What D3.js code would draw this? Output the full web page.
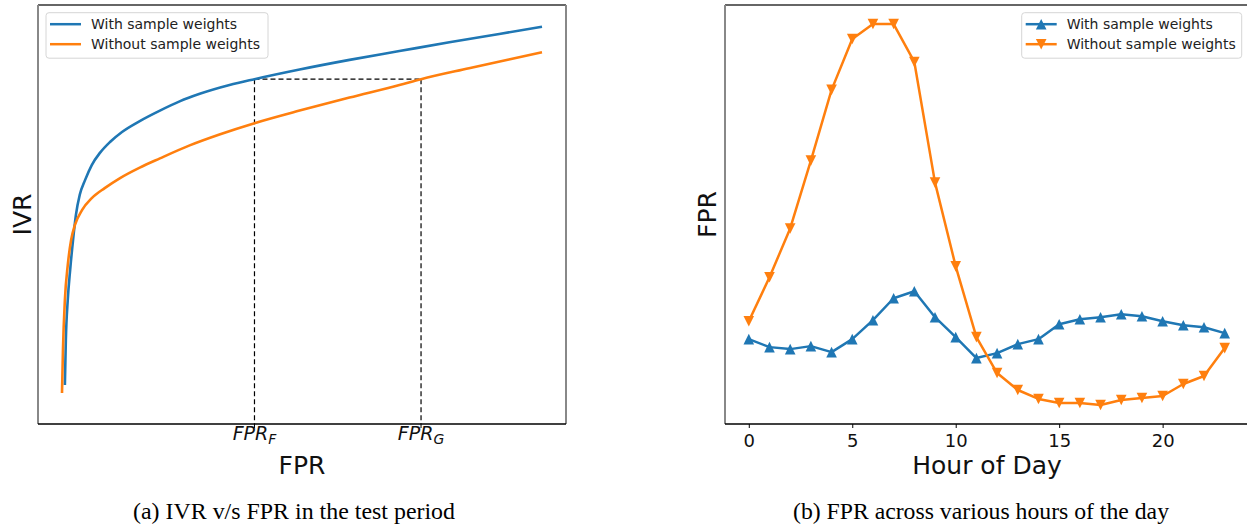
<!DOCTYPE html>
<html>
<head>
<meta charset="utf-8">
<script src="https://cdn.jsdelivr.net/npm/d3@7"></script>
<style>
  body { margin: 0; background: #fff; }
  svg { display: block; font-family: "DejaVu Sans", sans-serif; }
</style>
</head>
<body>
<div id="chart"></div>
<script>
// ---- left panel: IVR vs FPR curves (FPR, IVR pairs) ----
const withWeightsFpr = [0.006, 0.008, 0.012, 0.017, 0.023, 0.029, 0.037, 0.048, 0.062, 0.079, 0.100, 0.125, 0.162, 0.204, 0.245, 0.287, 0.349, 0.401, 0.495, 0.599, 0.703, 0.807, 0.911, 1.0];
const withWeightsIvr = [0.093, 0.200, 0.296, 0.368, 0.439, 0.499, 0.547, 0.582, 0.618, 0.647, 0.673, 0.697, 0.723, 0.748, 0.770, 0.788, 0.809, 0.823, 0.846, 0.869, 0.890, 0.911, 0.931, 0.948];
const withoutWeightsFpr = [0.0, 0.002, 0.006, 0.012, 0.019, 0.027, 0.042, 0.062, 0.089, 0.121, 0.162, 0.204, 0.266, 0.328, 0.401, 0.495, 0.599, 0.703, 0.748, 0.848, 0.931, 1.0];
const withoutWeightsIvr = [0.074, 0.177, 0.296, 0.379, 0.439, 0.475, 0.511, 0.539, 0.563, 0.587, 0.612, 0.634, 0.665, 0.691, 0.718, 0.748, 0.779, 0.809, 0.823, 0.849, 0.870, 0.887];
const fprF = 0.401, fprG = 0.748, ivrLevel = 0.823;

// ---- right panel: FPR by hour of day ----
const hours = d3.range(0, 24);
const fprWith = [0.085, 0.077, 0.075, 0.078, 0.072, 0.085, 0.104, 0.126, 0.133, 0.107, 0.087, 0.066, 0.071, 0.080, 0.085, 0.100, 0.105, 0.107, 0.110, 0.108, 0.103, 0.099, 0.097, 0.091];
const fprWithout = [0.103, 0.147, 0.196, 0.264, 0.335, 0.386, 0.401, 0.401, 0.363, 0.242, 0.158, 0.087, 0.051, 0.034, 0.025, 0.021, 0.021, 0.019, 0.024, 0.026, 0.028, 0.040, 0.048, 0.076];
const hourTicks = [0, 5, 10, 15, 20];

const seriesNames = ["With sample weights", "Without sample weights"];
const blue = "#1f77b4", orange = "#ff7f0e";

const W = 1247, H = 525;
const svg = d3.select("#chart").append("svg").attr("width", W).attr("height", H);

function frame(g, x0, x1, y0, y1){
    g.append("line").attr("x1", x0).attr("x2", x1).attr("y1", y0).attr("y2", y0).attr("stroke", "#333").attr("stroke-width", 1.5);
    g.append("line").attr("x1", x0).attr("x2", x0).attr("y1", y0).attr("y2", y1).attr("stroke", "#888").attr("stroke-width", 2);
    g.append("line").attr("x1", x1).attr("x2", x1).attr("y1", y0).attr("y2", y1).attr("stroke", "#888").attr("stroke-width", 2);
    g.append("line").attr("x1", x0).attr("x2", x1).attr("y1", y1).attr("y2", y1).attr("stroke", "#000").attr("stroke-width", 1.5);
}

function triangle(h, down){
    const s = down ? -1 : 1;
    return `M0,${-h*s}L${-h},${h*s}L${h},${h*s}Z`;
}

function legend(g, x, y, w, withMarkers){
    g.append("rect").attr("x", x).attr("y", y).attr("width", w).attr("height", 45.5)
        .attr("rx", 3).attr("fill", "#fff").attr("fill-opacity", 0.8)
        .attr("stroke", "#d6d6d6").attr("stroke-width", 1);
    [blue, orange].forEach((c, i) => {
        const cy = y + 11.5 + i * 20;
        g.append("line").attr("x1", x + 4).attr("x2", x + 35).attr("y1", cy).attr("y2", cy)
            .attr("stroke", c).attr("stroke-width", 2.5);
        if (withMarkers) {
            g.append("path").attr("d", triangle(5.3, i == 1))
                .attr("transform", `translate(${x + 19.5},${cy})`).attr("fill", c);
        }
        g.append("text").attr("x", x + 45).attr("y", cy + 5).attr("font-size", "14px")
            .attr("fill", "#222").text(seriesNames[i]);
    });
}

// ================= left panel =================
function leftPanel(){
    const x0 = 38, x1 = 566, y0 = 5, y1 = 424;
    const g = svg.append("g");
    const xScale = d3.scaleLinear().domain([-0.05, 1.05]).range([x0, x1]);
    const yScale = d3.scaleLinear().domain([0, 1]).range([y1, y0]);

    // dashed guides
    const dash = g.append("g").attr("stroke", "#000").attr("stroke-width", 1.2).attr("stroke-dasharray", "5,3").attr("fill", "none");
    dash.append("line").attr("x1", xScale(fprF)).attr("x2", xScale(fprF)).attr("y1", yScale(ivrLevel)).attr("y2", y1);
    dash.append("line").attr("x1", xScale(fprG)).attr("x2", xScale(fprG)).attr("y1", yScale(ivrLevel)).attr("y2", y1);
    dash.append("line").attr("x1", xScale(fprF)).attr("x2", xScale(fprG)).attr("y1", yScale(ivrLevel)).attr("y2", yScale(ivrLevel));

    const line = d3.line().x(d => xScale(d[0])).y(d => yScale(d[1])).curve(d3.curveMonotoneX);
    g.append("path").datum(d3.zip(withWeightsFpr, withWeightsIvr)).attr("d", line)
        .attr("fill", "none").attr("stroke", blue).attr("stroke-width", 2.6);
    g.append("path").datum(d3.zip(withoutWeightsFpr, withoutWeightsIvr)).attr("d", line)
        .attr("fill", "none").attr("stroke", orange).attr("stroke-width", 2.6);

    frame(g, x0, x1, y0, y1);

    // custom ticks
    [[fprF, "F"], [fprG, "G"]].forEach(([v, sub]) => {
        const px = xScale(v);
        g.append("line").attr("x1", px).attr("x2", px).attr("y1", y1).attr("y2", y1 + 4).attr("stroke", "#000");
        const t = g.append("text").attr("x", px).attr("y", 440).attr("text-anchor", "middle")
            .attr("font-size", "19px").attr("font-style", "italic").attr("fill", "#111");
        t.append("tspan").text("FPR");
        t.append("tspan").attr("font-size", "14px").attr("dy", 4).text(sub);
    });

    g.append("text").attr("x", (x0 + x1) / 2).attr("y", 474).attr("text-anchor", "middle")
        .attr("font-size", "25px").attr("fill", "#111").text("FPR");
    g.append("text").attr("transform", `translate(31,${(y0 + y1) / 2}) rotate(-90)`)
        .attr("text-anchor", "middle").attr("font-size", "25px").attr("fill", "#111").text("IVR");

    legend(g, 46, 12.7, 222, false);
}

// ================= right panel =================
function rightPanel(){
    const x0 = 725, y0 = 5, y1 = 424;
    const xScale = d3.scaleLinear().domain([-1.15, 24.15]).range([x0, 1248.5]);
    const allY = fprWith.concat(fprWithout);
    const ymin = d3.min(allY), ymax = d3.max(allY), pad = (ymax - ymin) * 0.05;
    const yScale = d3.scaleLinear().domain([ymin - pad, ymax + pad]).range([y1, y0]);
    const g = svg.append("g");

    const line = d3.line().x((d, i) => xScale(hours[i])).y(d => yScale(d));
    [[fprWith, blue, false], [fprWithout, orange, true]].forEach(([vals, c, down]) => {
        g.append("path").datum(vals).attr("d", line).attr("fill", "none")
            .attr("stroke", c).attr("stroke-width", 2.5).attr("stroke-linejoin", "round");
        g.selectAll(null).data(vals).enter().append("path")
            .attr("d", triangle(5.3, down))
            .attr("transform", (d, i) => `translate(${xScale(hours[i])},${yScale(d)})`)
            .attr("fill", c);
    });

    frame(g, x0, 1249, y0, y1);

    const xAxis = g.append("g").attr("transform", `translate(0,${y1})`)
        .call(d3.axisBottom(xScale).tickValues(hourTicks).tickSize(4).tickPadding(6).tickFormat(d3.format("d")));
    xAxis.select(".domain").remove();
    xAxis.selectAll("text").attr("font-size", "18px").attr("font-family", "DejaVu Sans").attr("fill", "#111");

    g.append("text").attr("x", 987).attr("y", 474).attr("text-anchor", "middle")
        .attr("font-size", "25px").attr("fill", "#111").text("Hour of Day");
    g.append("text").attr("transform", `translate(716,${(y0 + y1) / 2}) rotate(-90)`)
        .attr("text-anchor", "middle").attr("font-size", "25px").attr("fill", "#111").text("FPR");

    legend(g, 1021.7, 12.7, 220, true);
}

leftPanel();
rightPanel();

// captions
[["(a) IVR v/s FPR in the test period", 294, 322], ["(b) FPR across various hours of the day", 981, 376]].forEach(([txt, cx, w]) => {
    svg.append("text").attr("x", cx).attr("y", 519).attr("text-anchor", "middle")
        .attr("font-family", "'Liberation Serif', 'Times New Roman', serif").attr("font-size", "23px")
        .attr("textLength", w).attr("lengthAdjust", "spacingAndGlyphs")
        .attr("fill", "#000").text(txt);
});
</script>
</body>
</html>
